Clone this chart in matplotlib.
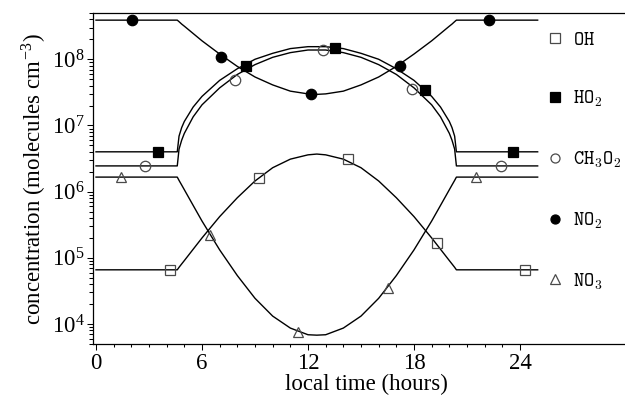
import matplotlib
matplotlib.use("Agg")
import matplotlib.pyplot as plt
from matplotlib.lines import Line2D
from matplotlib.ticker import LogLocator, FixedLocator, NullFormatter
import numpy as np

plt.rcParams['font.family'] = ['Liberation Serif', 'DejaVu Serif']
plt.rcParams['mathtext.fontset'] = 'cm'

# ---- data ----
t_curve = [0, 4.6, 4.7, 4.85, 5, 5.5, 6, 7, 8, 9, 10, 11, 12, 12.5,
           13, 14, 15, 16, 17, 18, 19, 19.5, 20, 20.15, 20.3, 20.4, 25]

oh_curve = [6.6e4, 6.6e4, 7.2e4, 8.1e4, 9.1e4, 1.35e5, 2.0e5, 4.2e5, 8.1e5, 1.45e6,
            2.3e6, 3.1e6, 3.6e6, 3.7e6, 3.6e6, 3.1e6, 2.3e6, 1.45e6, 8.1e5, 4.2e5,
            2.0e5, 1.35e5, 9.1e4, 8.1e4, 7.2e4, 6.6e4, 6.6e4]
no3_curve = [1.66e6, 1.66e6, 1.48e6, 1.26e6, 1.07e6, 6.2e5, 3.6e5, 1.32e5, 5.4e4, 2.45e4,
             1.32e4, 8.7e3, 6.9e3, 6.8e3, 6.9e3, 8.7e3, 1.32e4, 2.45e4, 5.4e4, 1.32e5,
             3.6e5, 6.2e5, 1.07e6, 1.26e6, 1.48e6, 1.66e6, 1.66e6]
no2_curve = [3.9e8, 3.9e8, 3.7e8, 3.4e8, 3.16e8, 2.45e8, 1.9e8, 1.2e8, 7.8e7, 5.4e7,
             4.1e7, 3.3e7, 3.0e7, 2.95e7, 3.0e7, 3.3e7, 4.1e7, 5.4e7, 7.8e7, 1.2e8,
             1.9e8, 2.45e8, 3.16e8, 3.4e8, 3.7e8, 3.9e8, 3.9e8]
ho2_curve = [4.0e6, 4.0e6, 6.9e6, 9.3e6, 1.15e7, 1.9e7, 2.75e7, 4.8e7, 7.2e7, 1.0e8,
             1.23e8, 1.45e8, 1.55e8, 1.55e8, 1.55e8, 1.45e8, 1.23e8, 1.0e8, 7.2e7, 4.8e7,
             2.75e7, 1.9e7, 1.15e7, 9.3e6, 6.9e6, 4.0e6, 4.0e6]
ch3o2_curve = [2.45e6, 2.45e6, 4.4e6, 6.0e6, 7.6e6, 1.35e7, 2.05e7, 3.7e7, 5.9e7, 8.3e7,
               1.07e8, 1.26e8, 1.38e8, 1.38e8, 1.38e8, 1.26e8, 1.07e8, 8.3e7, 5.9e7, 3.7e7,
               2.05e7, 1.35e7, 7.6e6, 6.0e6, 4.4e6, 2.45e6, 2.45e6]

oh_mk_t = [4.2, 9.2, 14.25, 19.3, 24.3]
oh_mk = [6.6e4, 1.6e6, 3.1e6, 1.7e5, 6.6e4]
ho2_mk_t = [3.5, 8.5, 13.55, 18.6, 23.6]
ho2_mk = [4.0e6, 8.0e7, 1.5e8, 3.4e7, 4.0e6]
ch3o2_mk_t = [2.8, 7.85, 12.85, 17.9, 22.9]
ch3o2_mk = [2.45e6, 4.9e7, 1.4e8, 3.5e7, 2.45e6]
no2_mk_t = [2.05, 7.1, 12.15, 17.2, 22.25]
no2_mk = [3.9e8, 1.1e8, 3.0e7, 7.9e7, 3.9e8]
no3_mk_t = [1.4, 6.45, 11.45, 16.5, 21.5]
no3_mk = [1.66e6, 2.2e5, 7.7e3, 3.55e4, 1.66e6]

species = [r'$\mathtt{OH}$', r'$\mathtt{HO_2}$', r'$\mathtt{CH_3O_2}$',
           r'$\mathtt{NO_2}$', r'$\mathtt{NO_3}$']
x_major = [0, 6, 12, 18, 24]
x_minor = list(range(0, 25))

# ---- figure ----
W, H = 625, 401
fig = plt.figure(figsize=(W / 100, H / 100), dpi=100)
left_px, right_px, top_px, bot_px = 93, 640, 13, 344
ax = fig.add_axes([left_px / W, 1 - bot_px / H, (right_px - left_px) / W, (bot_px - top_px) / H])

ppx = (520 - 96) / 24.0
ax.set_xlim((left_px - 96) / ppx, (right_px - 96) / ppx)
ax.set_yscale('log')
ax.set_ylim(5e3, 5e8)

lw = 1.0
for yc in [oh_curve, no3_curve, no2_curve, ho2_curve, ch3o2_curve]:
    ax.plot(t_curve, yc, color='black', lw=lw, zorder=2)

gray = '#4a4a4a'
ms = 7.5
mk_style = [
    ('s', 'none', gray, oh_mk_t, oh_mk),
    ('s', 'black', 'black', ho2_mk_t, ho2_mk),
    ('o', 'none', gray, ch3o2_mk_t, ch3o2_mk),
    ('o', 'black', 'black', no2_mk_t, no2_mk),
    ('^', 'none', gray, no3_mk_t, no3_mk),
]
handles = []
for m, fc, ec, xs, ys in mk_style:
    ax.plot(xs, ys, linestyle='none', marker=m, ms=ms, mfc=fc, mec=ec, mew=0.9, zorder=3)
    handles.append(Line2D([], [], linestyle='none', marker=m, ms=6.5, mfc=fc, mec=ec, mew=0.9))

ax.xaxis.set_major_locator(FixedLocator(x_major))
ax.xaxis.set_minor_locator(FixedLocator(x_minor))
ax.yaxis.set_major_locator(LogLocator(base=10, numticks=20))
ax.yaxis.set_minor_locator(LogLocator(base=10, subs=np.arange(2, 10), numticks=20))
ax.yaxis.set_minor_formatter(NullFormatter())

ax.spines['right'].set_visible(False)
for s in ['left', 'bottom', 'top']:
    ax.spines[s].set_linewidth(0.9)
ax.tick_params(axis='both', which='both', direction='out', width=0.75, labelsize=16.5)
ax.tick_params(axis='x', which='major', length=4.5, pad=2)
ax.tick_params(axis='x', which='minor', length=2.5)
ax.tick_params(axis='y', which='major', length=4.0, pad=2)
ax.tick_params(axis='y', which='minor', length=3.0)
ax.tick_params(top=False, right=False, which='both')

ax.set_xlabel('local time (hours)', fontsize=16.5, labelpad=0)
ax.set_ylabel(r'concentration (molecules cm$^{\mathdefault{-3}}$)', fontsize=16.5, labelpad=2)

leg = ax.legend(handles, species, loc='upper left',
                bbox_to_anchor=(547 / W, 1 - 31 / H), bbox_transform=fig.transFigure,
                frameon=False, fontsize=14, borderpad=0, labelspacing=2.08,
                handlelength=0.8, handletextpad=0.55, borderaxespad=0)

fig.savefig('out.png', dpi=100)
